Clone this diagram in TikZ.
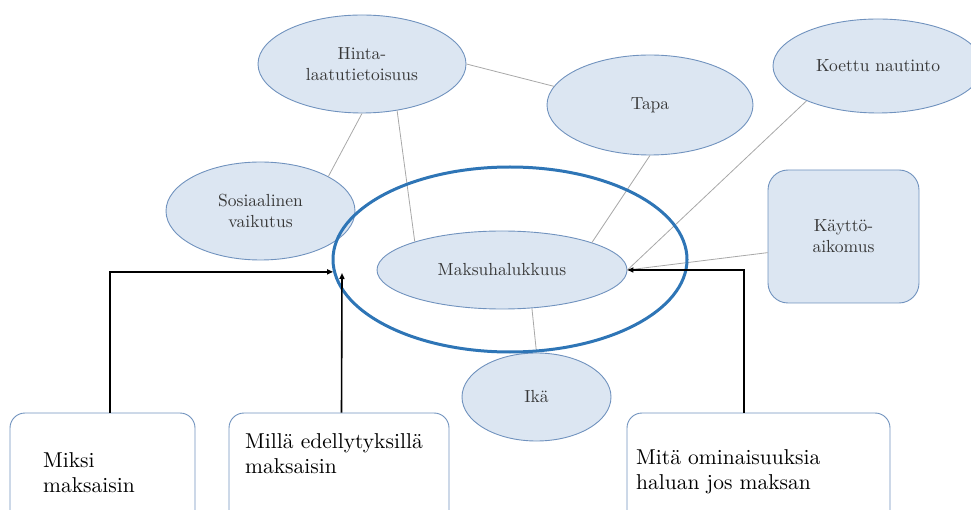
\documentclass[tikz,border=0pt]{standalone}
\usepackage{fontspec}
\setmainfont{lmroman10-regular.otf}
\usetikzlibrary{shapes.geometric,arrows.meta}
\definecolor{bubblefill}{RGB}{220,230,242}
\definecolor{bubbleedge}{RGB}{112,146,190}
\definecolor{ringblue}{RGB}{46,117,182}
\definecolor{linkgray}{RGB}{168,168,168}
\definecolor{labelgray}{RGB}{55,55,55}
\begin{document}
\begin{tikzpicture}[x=1pt,y=-1pt,
  bubble/.style={ellipse, draw=bubbleedge, fill=bubblefill, line width=0.9pt,
    inner sep=0pt, text=labelgray, align=center,
    font=\fontsize{17.5}{21}\selectfont},
  tile/.style={rectangle, rounded corners=20pt, draw=bubbleedge, fill=bubblefill,
    line width=0.9pt, inner sep=0pt, text=labelgray, align=center,
    font=\fontsize{17.5}{21}\selectfont},
  question/.style={rectangle, rounded corners=15pt, draw=bubbleedge, fill=white,
    line width=0.9pt, inner sep=0pt},
  qtext/.style={inner sep=0pt, anchor=north west, align=left,
    font=\fontsize{21.5}{25}\selectfont},
  link/.style={draw=linkgray, line width=0.8pt},
  flow/.style={draw=black, line width=1.6pt,
    -{Triangle[length=6pt,width=5pt]}}]
\path[use as bounding box, clip] (0,0) rectangle (971,510);

% linked factors
\node[bubble, minimum width=208pt, minimum height=98pt] (hinta) at (362,64) {Hinta-\\laatutietoisuus};
\node[bubble, minimum width=206pt, minimum height=100pt] (tapa) at (650,105) {Tapa};
\node[bubble, minimum width=210pt, minimum height=94pt] (koettu) at (878,66) {Koettu nautinto};
\node[bubble, minimum width=189pt, minimum height=98pt] (sos) at (260.5,211) {Sosiaalinen\\vaikutus};
\node[bubble, minimum width=250pt, minimum height=78pt] (maks) at (502,270) {Maksuhalukkuus};
\node[bubble, minimum width=149pt, minimum height=88pt] (ika) at (536.5,397) {Ikä};
\node[tile, minimum width=151pt, minimum height=133pt] (kayt) at (843.5,236.5) {Käyttö-\\aikomus};

% thin links between factors
\draw[link] (hinta.0) -- (tapa.169);
\draw[link] (hinta.-90) -- (sos.27);
\draw[link] (hinta.-53) -- (maks.162);
\draw[link] (tapa.-90) -- (maks.17);
\draw[link] (koettu.206) -- (maks.east);
\draw[link] (kayt.192) -- (maks.east);
\draw[link] (maks.-52) -- (ika.90);

% outer ring around the central concept
\node[ellipse, draw=ringblue, line width=3pt, inner sep=0pt,
  minimum width=354pt, minimum height=185pt] (ring) at (510,259.5) {};

% question boxes along the bottom edge
\node[question, minimum width=185pt, minimum height=130pt] (miksi) at (102.5,478) {};
\node[question, minimum width=220pt, minimum height=130pt] (milla) at (339,478) {};
\node[question, minimum width=263pt, minimum height=130pt] (mita) at (758.5,478) {};
\node[qtext] (miksiT) at (43,452.5) {Miksi\\maksaisin};
\node[qtext] (millaT) at (245,433.5) {Millä edellytyksillä\\maksaisin};
\node[qtext] (mitaT) at (636,449.5) {Mitä ominaisuuksia\\haluan jos maksan};

% arrows from the questions into the core
\coordinate (tip2) at (342,273);
\draw[flow] ([xshift=7.5pt]miksi.north) |- (ring.184);
\draw[flow] ([xshift=2.5pt]milla.north) -- (tip2);
\draw[flow] ([xshift=-14.5pt]mita.north) |- (maks.east);
\end{tikzpicture}
\end{document}
